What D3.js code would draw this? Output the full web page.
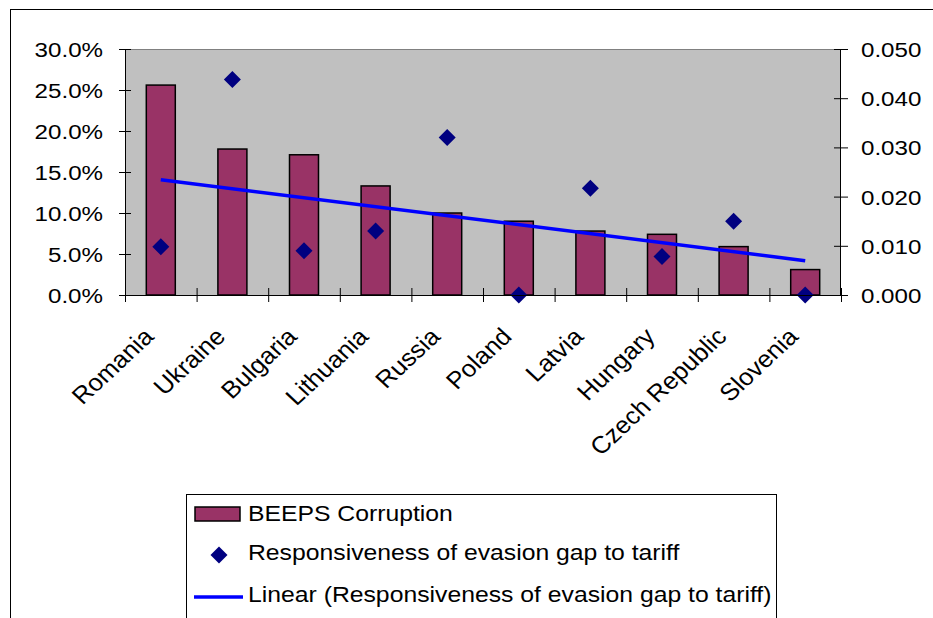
<!DOCTYPE html>
<html>
<head>
<meta charset="utf-8">
<script src="https://cdn.jsdelivr.net/npm/d3@7"></script>
<style>
  html, body { margin: 0; padding: 0; background: #ffffff; }
  svg { display: block; font-family: "Liberation Sans", Arial, sans-serif; }
</style>
</head>
<body>
<svg id="chart" width="933" height="618"></svg>
<script>
// Countries, ordered by BEEPS corruption score
const categories = ["Romania", "Ukraine", "Bulgaria", "Lithuania", "Russia",
                    "Poland", "Latvia", "Hungary", "Czech Republic", "Slovenia"];
// BEEPS corruption (share, left axis)
const corruption = [0.256, 0.178, 0.171, 0.133, 0.100, 0.090, 0.078, 0.074, 0.059, 0.031];
// Responsiveness of evasion gap to tariff (right axis)
const responsiveness = [0.0098, 0.0438, 0.0090, 0.0130, 0.0320, 0.0000, 0.0217, 0.0078, 0.0150, 0.0000];
// Axis ticks
const leftTicks = [0, 0.05, 0.10, 0.15, 0.20, 0.25, 0.30];
const rightTicks = [0, 0.01, 0.02, 0.03, 0.04, 0.05];
// Legend entries
const legendLabels = ["BEEPS Corruption",
                      "Responsiveness of evasion gap to tariff",
                      "Linear (Responsiveness of evasion gap to tariff)"];

const svg = d3.select("#chart");
const plot = { left: 125, right: 841, top: 49, bottom: 295 };
const SX = 1.15; // horizontal stretch of the Excel-style text

// outer chart frame
svg.append("rect")
  .attr("x", 10.5).attr("y", 9.5).attr("width", 1000).attr("height", 700)
  .attr("fill", "#fff").attr("stroke", "#000").attr("stroke-width", 1);

const pad = 0.595;
const x = d3.scaleBand().domain(categories)
  .range([plot.left, plot.right]).paddingInner(pad).paddingOuter(pad / 2);
const yL = d3.scaleLinear().domain([0, 0.30]).range([plot.bottom, plot.top]);
const yR = d3.scaleLinear().domain([0, 0.05]).range([plot.bottom, plot.top]);
const cx = c => x(c) + x.bandwidth() / 2;

// plot background
svg.append("rect")
  .attr("x", plot.left).attr("y", plot.top)
  .attr("width", plot.right - plot.left).attr("height", plot.bottom - plot.top)
  .attr("fill", "#c0c0c0");
svg.append("line")
  .attr("x1", plot.left).attr("x2", plot.right)
  .attr("y1", plot.top + 0.5).attr("y2", plot.top + 0.5)
  .attr("stroke", "#808080").attr("stroke-width", 1);

// bars
svg.append("g").selectAll("rect").data(categories).join("rect")
  .attr("x", d => x(d)).attr("width", x.bandwidth())
  .attr("y", (d, i) => yL(corruption[i]))
  .attr("height", (d, i) => yL(0) - yL(corruption[i]))
  .attr("fill", "#993366").attr("stroke", "#000").attr("stroke-width", 1.5);

// least-squares trend of responsiveness on category index
const n = categories.length;
const idx = d3.range(1, n + 1);
const mx = d3.mean(idx), my = d3.mean(responsiveness);
const slope = d3.sum(idx, (v, i) => (v - mx) * (responsiveness[i] - my)) /
              d3.sum(idx, v => (v - mx) * (v - mx));
const intercept = my - slope * mx;
const trend = categories.map((c, i) => [cx(c), yR(intercept + slope * (i + 1))]);

// diamonds
const dia = 8.5;
const diamondPath = `M0,${-dia}L${dia},0L0,${dia}L${-dia},0Z`;
svg.append("g").selectAll("path").data(categories).join("path")
  .attr("d", diamondPath)
  .attr("transform", (d, i) => `translate(${cx(d)},${yR(responsiveness[i])})`)
  .attr("fill", "#000080");

// trend line
svg.append("path")
  .attr("d", d3.line()([trend[0], trend[n - 1]]))
  .attr("fill", "none").attr("stroke", "#0000ff").attr("stroke-width", 3.5);

// left axis
const gL = svg.append("g").attr("transform", `translate(${plot.left},0)`)
  .call(d3.axisLeft(yL).tickValues(leftTicks).tickFormat(d3.format(".1%")).tickSize(6));
gL.select(".domain").attr("d", `M0.5,${plot.top}V${plot.bottom}`).attr("stroke", "#000");
gL.selectAll(".tick line").attr("x1", 6).attr("x2", -6).attr("stroke", "#000");
gL.selectAll(".tick text")
  .attr("x", -22 / SX).attr("dy", "0.36em")
  .attr("transform", `scale(${SX},1)`)
  .attr("font-size", 21).attr("font-family", "Liberation Sans, Arial, sans-serif")
  .attr("fill", "#000");

// right axis
const gR = svg.append("g").attr("transform", `translate(${plot.right},0)`)
  .call(d3.axisRight(yR).tickValues(rightTicks).tickFormat(d3.format(".3f")).tickSize(6));
gR.select(".domain").attr("d", `M-0.5,${plot.top}V${plot.bottom}`).attr("stroke", "#000");
gR.selectAll(".tick line").attr("x1", -7).attr("x2", 7).attr("stroke", "#000");
gR.selectAll(".tick text")
  .attr("x", 20 / SX).attr("dy", "0.36em")
  .attr("transform", `scale(${SX},1)`)
  .attr("font-size", 21).attr("font-family", "Liberation Sans, Arial, sans-serif")
  .attr("fill", "#000");

// category axis: baseline, boundary ticks and rotated labels
svg.append("line")
  .attr("x1", plot.left).attr("x2", plot.right)
  .attr("y1", plot.bottom + 0.5).attr("y2", plot.bottom + 0.5)
  .attr("stroke", "#000");
svg.append("g").selectAll("line").data(d3.range(n + 1)).join("line")
  .attr("x1", i => plot.left + i * x.step() + 0.5)
  .attr("x2", i => plot.left + i * x.step() + 0.5)
  .attr("y1", plot.bottom - 7).attr("y2", plot.bottom + 7)
  .attr("stroke", "#000");
svg.append("g").selectAll("text").data(categories).join("text")
  .attr("transform", d => `translate(${cx(d) - 12},${plot.bottom + 37}) scale(1.07,1) rotate(-45)`)
  .attr("text-anchor", "end").attr("dy", "0.35em")
  .attr("font-size", 24).attr("fill", "#000")
  .text(d => d);

// legend
const lg = svg.append("g");
lg.append("rect")
  .attr("x", 186.5).attr("y", 494.5).attr("width", 590).attr("height", 200)
  .attr("fill", "#fff").attr("stroke", "#000");
const rowY = [513, 552, 594];
lg.append("rect")
  .attr("x", 195).attr("y", rowY[0] - 6).attr("width", 45).attr("height", 14)
  .attr("fill", "#993366").attr("stroke", "#000").attr("stroke-width", 1.5);
lg.append("path").attr("d", diamondPath)
  .attr("transform", `translate(219,${rowY[1] + 3})`).attr("fill", "#000080");
lg.append("line")
  .attr("x1", 194).attr("x2", 243).attr("y1", rowY[2] + 3).attr("y2", rowY[2] + 3)
  .attr("stroke", "#0000ff").attr("stroke-width", 3.5);
lg.selectAll("text.lab").data(legendLabels).join("text")
  .attr("class", "lab")
  .attr("transform", (d, i) => `translate(248,${rowY[i]}) scale(1.1,1)`)
  .attr("dy", "0.36em").attr("font-size", 22.5).attr("fill", "#000")
  .text(d => d);
</script>
</body>
</html>
